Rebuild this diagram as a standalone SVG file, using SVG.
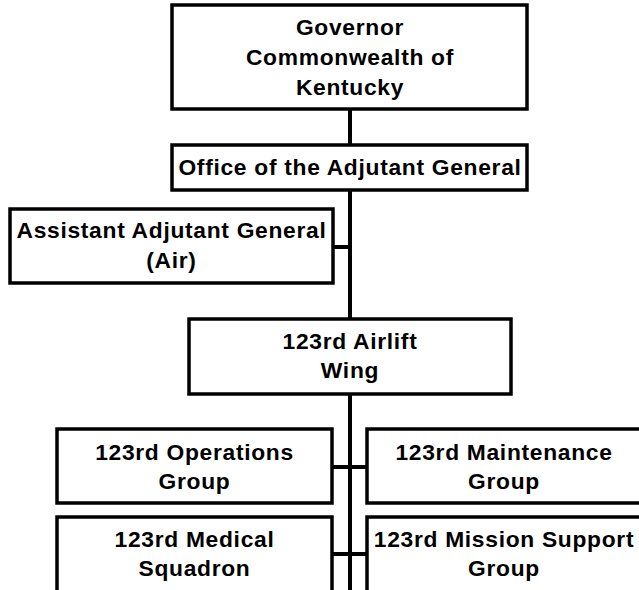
<svg xmlns="http://www.w3.org/2000/svg" width="639" height="590" viewBox="0 0 639 590">
<style>
.box{fill:#fff;stroke:#000;stroke-width:3.5}
.t{font-family:"Liberation Sans",Arial,sans-serif;font-weight:bold;font-size:22.8px;letter-spacing:0.7px;fill:#000;text-anchor:middle}
.c{stroke:#000;stroke-width:4;fill:none}
</style>
<rect width="639" height="590" fill="#fff"/>
<g id="connectors">
<line class="c" x1="350" y1="109" x2="350" y2="590"/>
<line class="c" x1="333" y1="247" x2="350" y2="247"/>
<line class="c" x1="332" y1="467" x2="367" y2="467"/>
<line class="c" x1="332" y1="554" x2="367" y2="554"/>
</g>
<g id="governor">
<rect class="box" x="172" y="5" width="355" height="104"/>
<text class="t" x="350" y="35">Governor</text>
<text class="t" x="350" y="65">Commonwealth of</text>
<text class="t" x="350" y="95">Kentucky</text>
</g>
<g id="office">
<rect class="box" x="172" y="145" width="355" height="45"/>
<text class="t" x="350" y="175">Office of the Adjutant General</text>
</g>
<g id="aag">
<rect class="box" x="10" y="209" width="323" height="74"/>
<text class="t" x="171.5" y="238">Assistant Adjutant General</text>
<text class="t" x="171.5" y="268">(Air)</text>
</g>
<g id="wing">
<rect class="box" x="189" y="319" width="322" height="75"/>
<text class="t" x="350" y="349">123rd Airlift</text>
<text class="t" x="350" y="378">Wing</text>
</g>
<g id="ops">
<rect class="box" x="57" y="429" width="275" height="74"/>
<text class="t" x="194.5" y="460">123rd Operations</text>
<text class="t" x="194.5" y="489">Group</text>
</g>
<g id="maint">
<rect class="box" x="367" y="429" width="275" height="74"/>
<text class="t" x="504" y="460">123rd Maintenance</text>
<text class="t" x="504" y="489">Group</text>
</g>
<g id="medical">
<rect class="box" x="57" y="517" width="275" height="90"/>
<text class="t" x="194.5" y="547">123rd Medical</text>
<text class="t" x="194.5" y="576">Squadron</text>
</g>
<g id="mission">
<rect class="box" x="367" y="517" width="275" height="90"/>
<text class="t" x="504" y="547">123rd Mission Support</text>
<text class="t" x="504" y="576">Group</text>
</g>
</svg>
